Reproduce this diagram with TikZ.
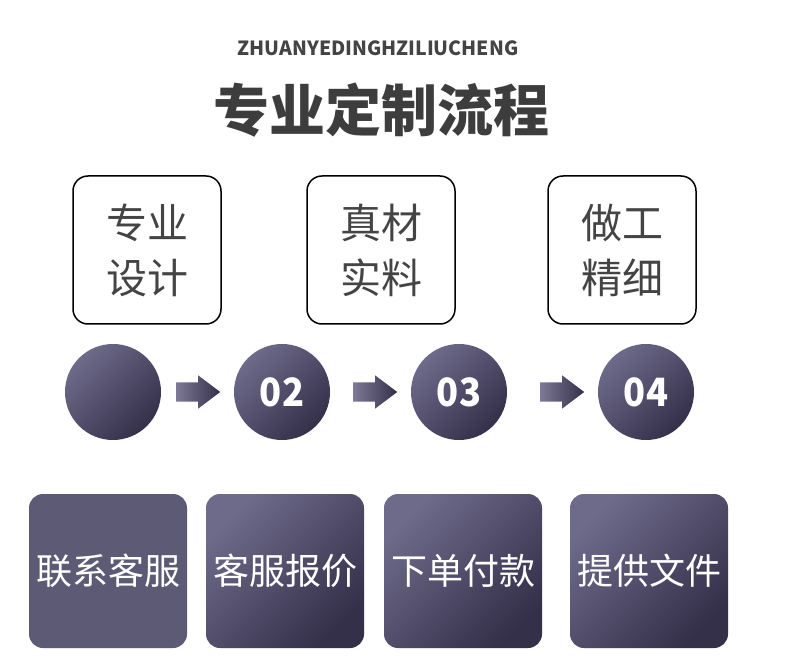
\documentclass[tikz,border=0pt]{standalone}
\usepackage{fontspec}
\newfontfamily\cjk{Noto Sans CJK SC}
\usetikzlibrary{shapes.arrows}
\definecolor{textgray}{HTML}{444444}
\definecolor{titlegray}{HTML}{3D3D3D}
\definecolor{cl}{HTML}{6E6A8A}
\definecolor{cd}{HTML}{34304A}
\definecolor{flat}{HTML}{5D5A76}
\begin{document}
\begin{tikzpicture}[x=1pt,y=-1pt,
  topbox/.style={draw=black, line width=1.5pt, rounded corners=15pt, minimum width=148pt, minimum height=148pt, inner sep=0pt, font=\cjk\fontsize{41}{55}\selectfont, text=textgray, align=center},
  circ/.style={circle, minimum size=96pt, inner sep=0pt, top color=cl, bottom color=cd, shading angle=45, text=white, font=\cjk\bfseries\fontsize{39}{40}\selectfont},
  botbox/.style={rounded corners=14pt, minimum width=158pt, minimum height=154pt, inner sep=0pt, text=white, font=\cjk\fontsize{36}{40}\selectfont},
  gradfill/.style={top color=cl, bottom color=cd, shading angle=45},
  flatfill/.style={fill=flat},
  arr/.style={single arrow, single arrow head extend=7pt, single arrow tip angle=74, minimum height=44pt, inner sep=0pt, draw=none, left color=cl!90, right color=cd, anchor=tail}
]
\useasboundingbox[fill=white] (0,0) rectangle (790,668);
\node[font=\cjk\bfseries\fontsize{19.5}{20}\selectfont, text=textgray] (sub) at (378,48) {ZHUANYEDINGHZILIUCHENG};
\node[font=\cjk\bfseries\fontsize{56}{60}\selectfont, text=titlegray] (title) at (381,110) {专业定制流程};

\node[topbox] (t1) at (147,250) {专业\\设计};
\node[topbox] (t2) at (381,250) {真材\\实料};
\node[topbox] (t3) at (622,250) {做工\\精细};

\node[circ] (c1) at (113,392) {};
\node[circ] (c2) at (282,392) {\scalebox{0.93}[1]{02}};
\node[circ] (c3) at (459,392) {\scalebox{0.93}[1]{03}};
\node[circ] (c4) at (646,392) {\scalebox{0.93}[1]{04}};

\node[arr] (a1) at (176,392) {\rule{0pt}{19pt}};
\node[arr] (a2) at (353,392) {\rule{0pt}{19pt}};
\node[arr] (a3) at (540,392) {\rule{0pt}{19pt}};

\node[botbox, flatfill] (b1) at (108,571) {联系客服};
\node[botbox, gradfill] (b2) at (285,571) {客服报价};
\node[botbox, gradfill] (b3) at (463,571) {下单付款};
\node[botbox, gradfill] (b4) at (649,571) {提供文件};
\end{tikzpicture}
\end{document}
